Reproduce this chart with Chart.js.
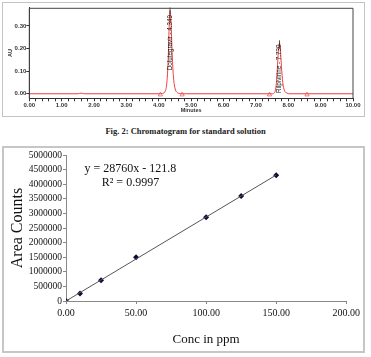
<!DOCTYPE html>
<html lang="en">
<head>
    <meta charset="UTF-8">
    <title>Chromatogram and calibration curve</title>
    <style>
        body {
            margin: 0;
            padding: 0;
            width: 371px;
            height: 357px;
            overflow: hidden;
            background: #fff;
            position: relative;
        }
        .box {
            position: absolute;
            box-sizing: border-box;
        }
        #topBox {
            left: 2px; top: 2px; width: 363px; height: 115px;
            border: 1px solid #c4c4c4;
        }
        #bottomBox {
            left: 2px; top: 146px; width: 363px; height: 207px;
            border: 2px solid #c6c6c6;
        }
        .chart-wrap {
            position: absolute;
        }
        #chromWrap { left: 3px; top: 3px; width: 361px; height: 113px; }
        #calWrap { left: 4px; top: 148px; width: 359px; height: 203px; }
        #caption {
            position: absolute;
            left: 0; top: 126px; width: 371px;
            text-align: center;
            font-family: "Liberation Serif", serif;
            font-weight: bold;
            font-size: 8.5px;
            color: #222;
        }
    </style>
</head>
<body>
    <div class="box" id="topBox"></div>
    <div class="chart-wrap" id="chromWrap"><canvas id="chromChart"></canvas></div>
    <div id="caption">Fig. 2: Chromatogram for standard solution</div>
    <div class="box" id="bottomBox"></div>
    <div class="chart-wrap" id="calWrap"><canvas id="calChart"></canvas></div>

    <script src="https://cdn.jsdelivr.net/npm/chart.js"></script>
    <script>
        // chromatogram trace (minutes, AU)
        const chromTime = [0, 1.5, 1.6, 1.7, 4.0, 4.12, 4.20, 4.25, 4.29, 4.32, 4.349, 4.38, 4.41, 4.45, 4.50, 4.56, 4.65, 4.72,
                           7.50, 7.57, 7.61, 7.64, 7.67, 7.70, 7.73, 7.76, 7.79, 7.83, 7.88, 7.95, 8.05, 10.0];
        const chromAU = [0, 0, 0.003, 0, 0, 0.002, 0.012, 0.05, 0.15, 0.29, 0.368, 0.31, 0.19, 0.08, 0.025, 0.007, 0.001, 0,
                         0, 0.004, 0.02, 0.06, 0.13, 0.20, 0.223, 0.19, 0.12, 0.05, 0.015, 0.004, 0, 0];
        const markerTime = [4.05, 4.72, 7.42, 8.58];
        const markerAU = [-0.004, -0.004, -0.004, -0.004];
        const peakNames = ['Dolutegravir - 4.349', 'Rilpivirine - 7.730'];
        const peakTime = [4.349, 7.730];
        const peakHeight = [0.368, 0.223];
        const peakLabelBase = [0.104, 0.003];
        const chromYTicks = [0, 0.1, 0.2, 0.3];

        // calibration curve
        const concPpm = [0, 10, 25, 50, 100, 125, 150];
        const areaCounts = [0, 260000, 710000, 1500000, 2870000, 3600000, 4310000];
        const trendSlope = 28760;
        const trendIntercept = -121.8;
        const trendRange = [0, 150];
        const equationLines = ['y = 28760x - 121.8', 'R\u00b2 = 0.9997'];

        const sans = '"Liberation Sans", Arial, sans-serif';
        const serif = '"Liberation Serif", "Times New Roman", serif';

        const framePlugin = {
            id: 'frame',
            afterDraw(chart) {
                const a = chart.chartArea, ctx = chart.ctx;
                ctx.save();
                ctx.strokeStyle = '#444';
                ctx.lineWidth = 1;
                ctx.beginPath();
                ctx.moveTo(a.left, a.bottom);
                ctx.lineTo(a.left, a.top + 0.5);
                ctx.lineTo(a.right, a.top + 0.5);
                ctx.lineTo(a.right, a.bottom);
                ctx.stroke();
                ctx.restore();
            }
        };

        const peakLabelPlugin = {
            id: 'peakLabels',
            afterDatasetsDraw(chart) {
                const ctx = chart.ctx, xs = chart.scales.x, ys = chart.scales.y;
                ctx.save();
                ctx.font = '6.3px ' + sans;
                ctx.fillStyle = '#111';
                ctx.strokeStyle = '#222';
                ctx.lineWidth = 0.8;
                peakNames.forEach((name, i) => {
                    const px = xs.getPixelForValue(peakTime[i]);
                    const py = ys.getPixelForValue(peakLabelBase[i]);
                    const top = ys.getPixelForValue(peakHeight[i]);
                    ctx.beginPath();
                    ctx.moveTo(px, top + 4);
                    ctx.lineTo(px, top - 3);
                    ctx.stroke();
                    ctx.save();
                    ctx.translate(px, py);
                    ctx.rotate(-Math.PI / 2);
                    ctx.textAlign = 'left';
                    ctx.textBaseline = 'middle';
                    ctx.fillText(name, 0, 0);
                    ctx.restore();
                });
                ctx.restore();
            }
        };

        new Chart(document.getElementById('chromChart'), {
            type: 'line',
            data: {
                datasets: [{
                    data: chromTime.map((t, i) => ({ x: t, y: chromAU[i] })),
                    borderColor: '#e8403c',
                    borderWidth: 1,
                    pointRadius: 0,
                    cubicInterpolationMode: 'monotone',
                    fill: false
                }, {
                    type: 'scatter',
                    data: markerTime.map((t, i) => ({ x: t, y: markerAU[i] })),
                    pointStyle: 'triangle',
                    pointRadius: 2.5,
                    borderWidth: 0.8,
                    borderColor: '#e86060',
                    backgroundColor: 'rgba(255,255,255,0)'
                }]
            },
            options: {
                responsive: true,
                maintainAspectRatio: false,
                animation: false,
                layout: { padding: { top: 4, right: 11, left: 0, bottom: 0 } },
                plugins: { legend: { display: false }, tooltip: { enabled: false } },
                scales: {
                    x: {
                        type: 'linear',
                        min: 0,
                        max: 10,
                        afterFit: s => { s.height = 17.7; },
                        grid: { display: true, drawOnChartArea: false, tickLength: 3, color: '#333' },
                        border: { display: true, color: '#333', width: 1 },
                        ticks: {
                            stepSize: 0.2,
                            autoSkip: false,
                            maxRotation: 0,
                            padding: 0,
                            color: '#333',
                            font: { family: sans, size: 6, weight: 'bold' },
                            callback: v => Math.abs(v - Math.round(v)) < 1e-6 ? Number(v).toFixed(2) : ''
                        },
                        title: { display: true, text: 'Minutes', color: '#333', font: { family: sans, size: 5.5, weight: 'bold' }, padding: { top: 0, bottom: 2.7 } }
                    },
                    y: {
                        min: -0.02,
                        max: 0.38,
                        afterFit: s => { s.width = 26.3; },
                        afterBuildTicks: s => { s.ticks = chromYTicks.map(v => ({ value: v })); },
                        grid: { display: true, drawOnChartArea: false, tickLength: 3, color: '#333' },
                        border: { display: true, color: '#333', width: 1 },
                        ticks: {
                            padding: 0,
                            color: '#333',
                            font: { family: sans, size: 6, weight: 'bold' },
                            callback: v => Number(v).toFixed(2)
                        },
                        title: { display: true, text: 'AU', color: '#333', font: { family: sans, size: 5.5, weight: 'bold' }, padding: { top: 3.7, bottom: 0 } }
                    }
                }
            },
            plugins: [framePlugin, peakLabelPlugin]
        });

        const equationPlugin = {
            id: 'equation',
            afterDraw(chart) {
                const ctx = chart.ctx, xs = chart.scales.x, ys = chart.scales.y;
                ctx.save();
                ctx.font = '12px ' + serif;
                ctx.fillStyle = '#111';
                ctx.textAlign = 'center';
                ctx.textBaseline = 'middle';
                ctx.fillText(equationLines[0], xs.getPixelForValue(46), ys.getPixelForValue(4520000));
                ctx.fillText(equationLines[1], xs.getPixelForValue(46), ys.getPixelForValue(4040000));
                ctx.restore();
            }
        };

        new Chart(document.getElementById('calChart'), {
            type: 'scatter',
            data: {
                datasets: [{
                    type: 'line',
                    data: trendRange.map(c => ({ x: c, y: trendSlope * c + trendIntercept })),
                    borderColor: '#555',
                    borderWidth: 1,
                    pointRadius: 0,
                    fill: false
                }, {
                    data: concPpm.map((c, i) => ({ x: c, y: areaCounts[i] })),
                    pointStyle: 'rectRot',
                    pointRadius: 3,
                    backgroundColor: '#0b0b3a',
                    borderColor: '#0b0b3a',
                    borderWidth: 0
                }]
            },
            options: {
                responsive: true,
                maintainAspectRatio: false,
                animation: false,
                layout: { padding: { top: 7, right: 16, left: 0, bottom: 0 } },
                plugins: { legend: { display: false }, tooltip: { enabled: false } },
                scales: {
                    x: {
                        type: 'linear',
                        min: 0,
                        max: 200,
                        afterFit: s => { s.height = 50; },
                        grid: { display: true, drawOnChartArea: false, tickLength: 3, color: '#888' },
                        border: { display: true, color: '#888', width: 1 },
                        ticks: {
                            stepSize: 50,
                            padding: 3,
                            maxRotation: 0,
                            color: '#111',
                            font: { family: serif, size: 10 },
                            callback: v => Number(v).toFixed(2)
                        },
                        title: { display: true, text: 'Conc in ppm', color: '#111', font: { family: serif, size: 13 }, padding: { top: 0, bottom: 3.2 } }
                    },
                    y: {
                        min: 0,
                        max: 5000000,
                        afterFit: s => { s.width = 62; },
                        grid: { display: true, drawOnChartArea: false, tickLength: 3, color: '#888' },
                        border: { display: true, color: '#888', width: 1 },
                        ticks: {
                            stepSize: 500000,
                            padding: 1,
                            color: '#111',
                            font: { family: serif, size: 9.5 },
                            callback: v => String(v)
                        },
                        title: { display: true, text: 'Area Counts', color: '#111', font: { family: serif, size: 16 }, padding: { top: 4.5, bottom: 0 } }
                    }
                }
            },
            plugins: [equationPlugin]
        });
    </script>
</body>
</html>
